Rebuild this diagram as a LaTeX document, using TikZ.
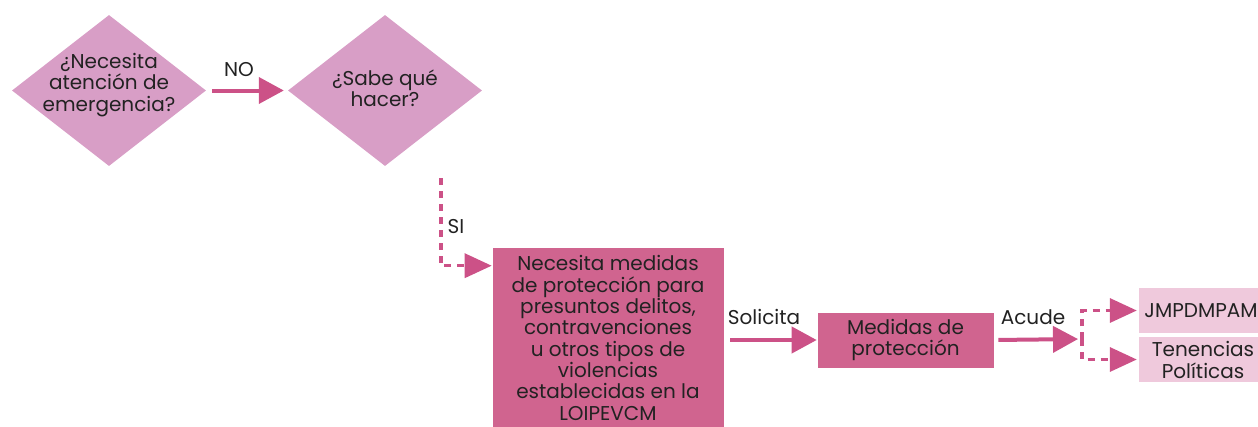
\documentclass[tikz,border=0pt]{standalone}
\usepackage{fontspec}
\setmainfont{Poppins}
\usetikzlibrary{shapes.geometric,arrows.meta,calc}
\definecolor{diam}{HTML}{D89EC6}
\definecolor{darkbox}{HTML}{D0648F}
\definecolor{arr}{HTML}{CC5187}
\definecolor{lightbox}{HTML}{EFC9DC}
\definecolor{txt}{HTML}{222222}
\tikzset{
  every node/.style={text=txt, font=\fontsize{20}{21.3}\selectfont},
  diamondshape/.style={shape=diamond, fill=diam, inner sep=0pt, minimum width=194pt, minimum height=151pt},
  darkrect/.style={fill=darkbox, draw=white, line width=0.6pt, inner sep=0pt},
  lightrect/.style={fill=lightbox, inner sep=0pt, minimum width=128pt},
  lbl/.style={align=center, inner sep=0pt},
  solidarrow/.style={draw=arr, line width=4pt, -{Triangle[length=25pt,width=26pt]}},
  dasharrow/.style={draw=arr, line width=3.5pt, dash pattern=on 7pt off 6pt, -{Triangle[length=27pt,width=24pt]}},
}
\begin{document}
\begin{tikzpicture}[x=1pt,y=-1pt]
\useasboundingbox (0,0) rectangle (1258,426);
\clip (0,0) rectangle (1258,426);
% diamonds
\node[diamondshape] (d1) at (109,90.5) {};
\node[lbl] (t1) at (109,85) {¿Necesita\\atención de\\emergencia?};
\node[diamondshape] (d2) at (385,90.5) {};
\node[lbl] (t2) at (385,88) {¿Sabe qué\\hacer?};
% boxes
\node[darkrect, minimum width=232pt, minimum height=195pt] (b1) at (608,344.5) {};
\node[lbl] (tb1) at (608,338) {Necesita medidas\\de protección para\\presuntos delitos,\\contravenciones\\u otros tipos de\\violencias\\establecidas en la\\LOIPEVCM};
\node[darkrect, minimum width=177pt, minimum height=56pt] (b2) at (905.5,340) {};
\node[lbl] (tb2) at (905.5,340) {Medidas de\\protección};
\node[lightrect, minimum height=45pt] (j) at (1203,310.5) {};
\node[lbl] (tj) at (1201,311) {JMPDMPAM};
\node[lightrect, minimum height=45pt] (tp) at (1203,359.5) {};
\node[lbl] (ttp) at (1203,360) {Tenencias\\Políticas};
% coordinates
\coordinate (c1) at (441,178);
\coordinate (split) at (1082,339);
% connectors
\draw[solidarrow, shorten <=6pt, shorten >=4pt] (d1.east) -- (d2.west);
\draw[dasharrow] (c1) |- ($(b1.north west)+(0,19)$);
\draw[solidarrow, shorten <=6pt] (b1.east |- b2.west) -- (b2.west);
\draw[solidarrow, shorten <=4pt, shorten >=4pt] (b2.east) -- (split);
\draw[dasharrow, shorten >=2pt] (split) |- (j.west);
\draw[dasharrow, shorten >=2pt] (split) |- (tp.west);
% labels
\node[lbl] (lno) at (239,70) {NO};
\node[lbl] (lsi) at (456,227) {SI};
\node[lbl] (lsol) at (764,317) {Solicita};
\node[lbl] (lac) at (1033,317) {Acude};
\end{tikzpicture}
\end{document}
